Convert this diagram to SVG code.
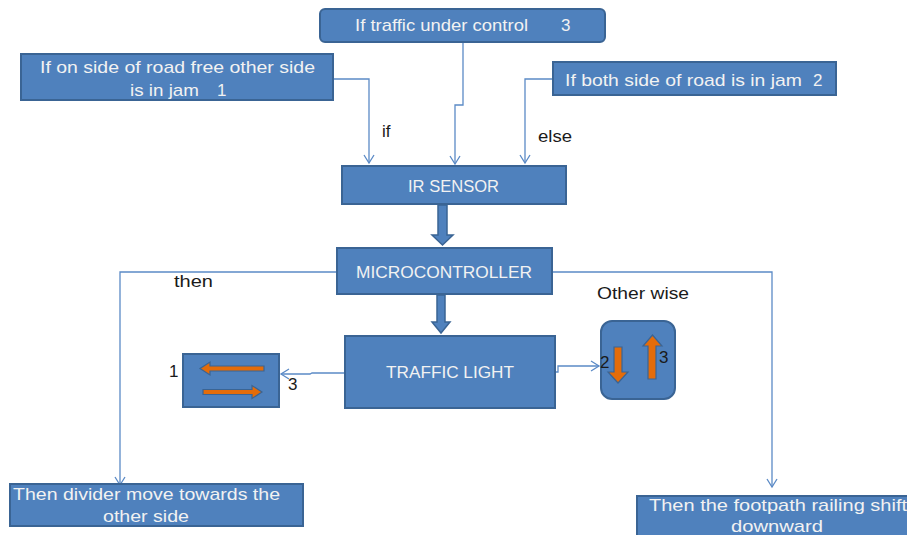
<svg xmlns="http://www.w3.org/2000/svg" width="907" height="535" viewBox="0 0 907 535">
<style>
.box{fill:#4f81bd;stroke:#3a6494;stroke-width:2}
.bt{font-family:"Liberation Sans",Arial,sans-serif;font-size:17px;fill:#f2f2f2}
.lt{font-family:"Liberation Sans",Arial,sans-serif;font-size:17px;fill:#1a1a1a}
.con{fill:none;stroke:#5b8ac6;stroke-width:1.3}
.thick{fill:#4f81bd;stroke:#3a6494;stroke-width:1.5}
.or{fill:#e46c0a;stroke:#3a6494;stroke-width:1.2}
</style>
<defs>
<marker id="ah" markerWidth="12" markerHeight="12" refX="10" refY="6" orient="auto" markerUnits="userSpaceOnUse">
<path d="M2,1 L10,6 L2,11" fill="none" stroke="#5b8ac6" stroke-width="1.3"/>
</marker>
</defs>
<rect width="907" height="535" fill="#ffffff"/>

<g id="connectors">
<path class="con" d="M333,79 H369 V163" marker-end="url(#ah)"/>
<path class="con" d="M463,42 V105 H455 V164" marker-end="url(#ah)"/>
<path class="con" d="M553,79 H525 V163" marker-end="url(#ah)"/>
<path class="con" d="M337,272 H120 V485" marker-end="url(#ah)"/>
<path class="con" d="M552,272 H772 V487" marker-end="url(#ah)"/>
<path class="con" d="M345,373 H312 L310,374 H281" marker-end="url(#ah)"/>
<path class="con" d="M555,372 H558 V366 H599" marker-end="url(#ah)"/>
<path class="thick" d="M438,205 H447 V235 H453 L442.5,245 L432,235 H438 Z"/>
<path class="thick" d="M437,295 H445 V322 H450 L441,333 L432,322 H437 Z"/>
</g>

<g id="n-control">
<rect class="box" x="320" y="9" width="285" height="33" rx="5"/>
<text class="bt" x="355" y="31" textLength="173" lengthAdjust="spacingAndGlyphs">If traffic under control</text>
<text class="bt" x="561" y="31">3</text>
</g>

<g id="n-free">
<rect class="box" x="21" y="54" width="312" height="46"/>
<text class="bt" x="40" y="73" textLength="275" lengthAdjust="spacingAndGlyphs">If on side of road free other side</text>
<text class="bt" x="130" y="96" textLength="69" lengthAdjust="spacingAndGlyphs">is in jam</text>
<text class="bt" x="217" y="96">1</text>
</g>

<g id="n-jam">
<rect class="box" x="553" y="62" width="283" height="33"/>
<text class="bt" x="565" y="86" textLength="237" lengthAdjust="spacingAndGlyphs">If both side of road is in jam</text>
<text class="bt" x="813" y="86">2</text>
</g>

<g id="n-ir">
<rect class="box" x="342" y="166" width="224" height="38"/>
<text class="bt" x="408" y="192" textLength="91" lengthAdjust="spacingAndGlyphs">IR SENSOR</text>
</g>

<g id="n-micro">
<rect class="box" x="337" y="248" width="215" height="46"/>
<text class="bt" x="356" y="278" textLength="176" lengthAdjust="spacingAndGlyphs">MICROCONTROLLER</text>
</g>

<g id="n-traffic">
<rect class="box" x="345" y="336" width="210" height="72"/>
<text class="bt" x="386" y="378" textLength="128" lengthAdjust="spacingAndGlyphs">TRAFFIC LIGHT</text>
</g>

<g id="n-divider">
<rect class="box" x="183" y="354" width="96" height="53"/>
<path class="or" d="M200,368.5 L210,362 V366 H264 V371 H210 V375 Z"/>
<path class="or" d="M262,392 L252,385.5 V389.5 H203 V394.5 H252 V398.5 Z"/>
</g>

<g id="n-railing">
<rect class="box" x="601" y="321" width="74" height="78" rx="11"/>
<path class="or" d="M614,347 H622 V372 H628 L618,383 L608,372 H614 Z"/>
<path class="or" d="M648,379 H656 V346 H662 L652.5,335 L643,346 H648 Z"/>
</g>

<g id="n-then-left">
<rect class="box" x="10" y="484" width="293" height="42"/>
<text class="bt" x="13" y="500" textLength="267" lengthAdjust="spacingAndGlyphs">Then divider move towards the</text>
<text class="bt" x="103" y="522" textLength="86" lengthAdjust="spacingAndGlyphs">other side</text>
</g>

<g id="n-then-right">
<rect class="box" x="637" y="496" width="285" height="45"/>
<text class="bt" x="649" y="511" textLength="258" lengthAdjust="spacingAndGlyphs">Then the footpath railing shift</text>
<text class="bt" x="731" y="532" textLength="92" lengthAdjust="spacingAndGlyphs">downward</text>
</g>

<g id="labels">
<text class="lt" x="382" y="137">if</text>
<text class="lt" x="538" y="142" textLength="34" lengthAdjust="spacingAndGlyphs">else</text>
<text class="lt" x="174" y="287" textLength="39" lengthAdjust="spacingAndGlyphs">then</text>
<text class="lt" x="597" y="299" textLength="92" lengthAdjust="spacingAndGlyphs">Other wise</text>
<text class="lt" x="169" y="377">1</text>
<text class="lt" x="288" y="390">3</text>
<text class="lt" x="600" y="368">2</text>
<text class="lt" x="659" y="363">3</text>
</g>
</svg>
